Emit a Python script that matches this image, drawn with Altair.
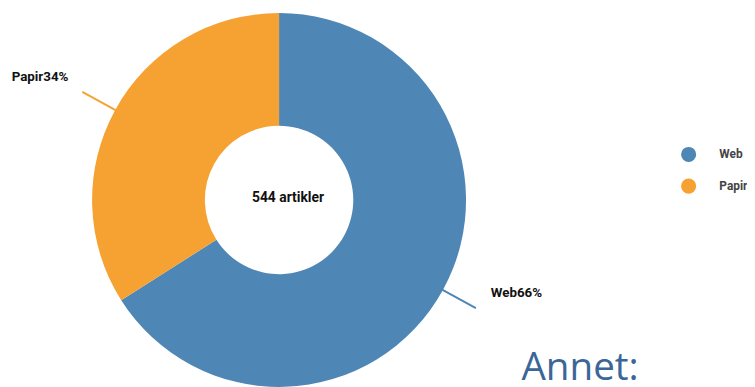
import math
import altair as alt
import pandas as pd

categories = ["Web", "Papir"]
shares = [66, 34]
colors = ["#4e86b5", "#f5a233"]
total_articles = 544
annet_text = "Annet:"

W, H = 747, 379
CX, CY = 274, 192
R_OUT, R_IN = 189, 75
R_LEAD = 227

df = pd.DataFrame({
    "kategori": categories,
    "andel": shares,
    "rekkefolge": list(range(len(categories))),
})

# leader lines and label anchors derived from slice mid-angles
rows, labels = [], []
cum = 0
tot = sum(shares)
for c, v in zip(categories, shares):
    mid = (cum + v / 2) / tot * 2 * math.pi
    cum += v
    for i, r in enumerate([R_OUT - 2, R_LEAD]):
        rows.append({"kategori": c, "i": i,
                     "px": CX + r * math.sin(mid), "py": CY - r * math.cos(mid)})
    ex, ey = CX + R_LEAD * math.sin(mid), CY - R_LEAD * math.cos(mid)
    right = math.sin(mid) > 0
    labels.append({"kategori": c, "etikett": f"{c}{v}%",
                   "lx": ex + (15 if right else -14), "ly": ey - 15,
                   "side": "L" if right else "R"})
lines = pd.DataFrame(rows)
lab = pd.DataFrame(labels)

color_scale = alt.Scale(domain=categories, range=colors)

arcs = alt.Chart(df).mark_arc(outerRadius=R_OUT, innerRadius=R_IN, stroke=None).encode(
    theta=alt.Theta("andel:Q", stack=True),
    order=alt.Order("rekkefolge:Q"),
    color=alt.Color("kategori:N", scale=color_scale, sort=categories,
                    legend=alt.Legend(title=None, orient="none", legendX=680, legendY=138,
                                      symbolType="circle", symbolSize=190,
                                      labelFont="Roboto", labelFontWeight="bold",
                                      labelFontSize=12, labelColor="#444444",
                                      labelOffset=23, rowPadding=12)),
    x=alt.value(CX), y=alt.value(CY),
)

leader = alt.Chart(lines).mark_line(strokeWidth=2).encode(
    x=alt.X("px:Q", scale=None, axis=None),
    y=alt.Y("py:Q", scale=None, axis=None),
    detail="kategori:N",
    order="i:Q",
    color=alt.Color("kategori:N", scale=color_scale, legend=None),
)

def label_layer(side, align):
    return alt.Chart(lab).transform_filter(alt.datum.side == side).mark_text(
        font="Roboto", fontWeight="bold", fontSize=13.5, color="#111111",
        align=align, baseline="middle").encode(
        text="etikett:N",
        x=alt.X("lx:Q", scale=None, axis=None),
        y=alt.Y("ly:Q", scale=None, axis=None),
    )

lbl_left = label_layer("L", "left")
lbl_right = label_layer("R", "right")

center = alt.Chart(pd.DataFrame({"t": [f"{total_articles} artikler"]})).mark_text(
    font="Roboto", fontWeight="bold", fontSize=14, color="#111111",
    align="center", baseline="middle").encode(
    text="t:N", x=alt.value(CX + 9), y=alt.value(CY - 2))

annet = alt.Chart(pd.DataFrame({"t": [annet_text]})).mark_text(
    font="Open Sans", fontSize=39, color="#3c6698",
    align="left", baseline="alphabetic").encode(
    text="t:N", x=alt.value(519), y=alt.value(374))

chart = alt.layer(arcs, leader, lbl_left, lbl_right, center, annet).properties(
    width=W, height=H, padding=0, autosize=alt.AutoSizeParams(type="none"),
).configure_view(stroke=None)

chart.save("out.html", embed_options={"renderer": "svg", "actions": False})
